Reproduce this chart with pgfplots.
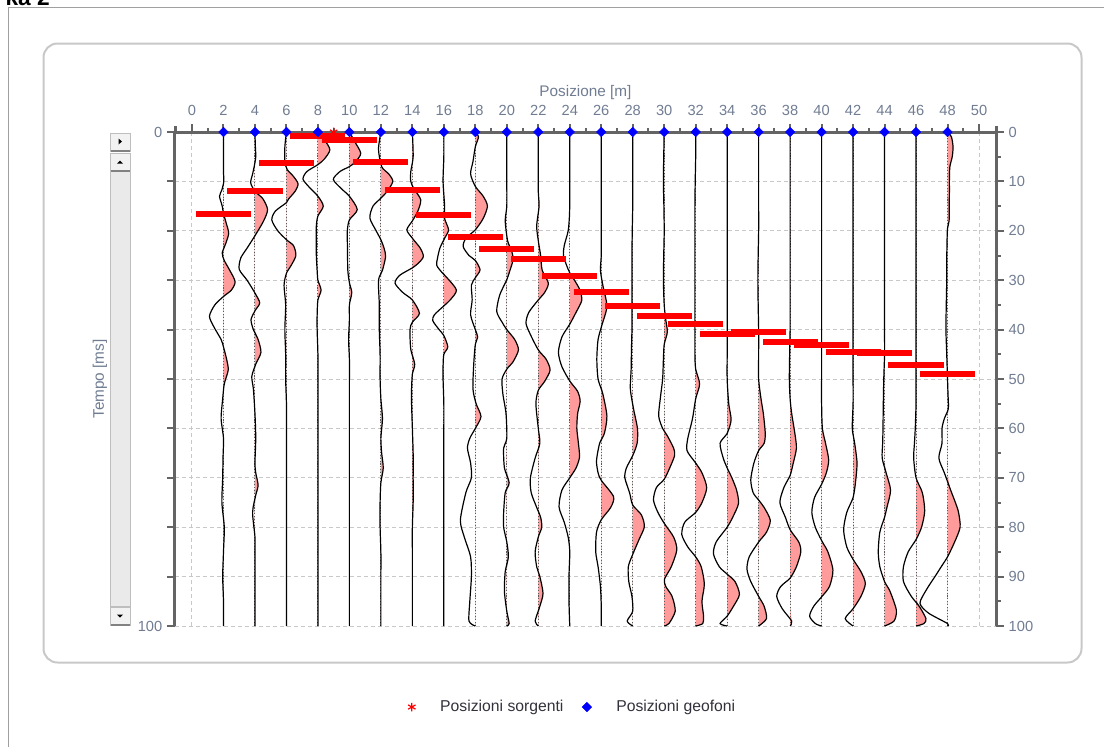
\documentclass[border=0pt]{standalone}
\usepackage{pgfplots}
\pgfplotsset{compat=1.18}
\usepackage{pgfplotstable}
\usepackage{fontspec}
\setmainfont{Liberation Sans}

\definecolor{axisgrey}{RGB}{100,100,100}
\definecolor{gridgrey}{RGB}{200,200,200}
\definecolor{labelcol}{RGB}{112,124,146}
\definecolor{tracefill}{RGB}{255,155,155}
\definecolor{panelgrey}{RGB}{200,200,200}
\definecolor{framegrey}{RGB}{160,160,160}
\definecolor{legtext}{RGB}{50,50,60}
\definecolor{basecol}{RGB}{90,90,90}
\definecolor{btnfill}{RGB}{242,242,242}
\definecolor{trackfill}{RGB}{234,234,234}
\definecolor{btnborder}{RGB}{190,190,190}
\definecolor{btndark}{RGB}{130,130,130}

% traces: t [ms], a = amplitude offset from geophone position [m]
\pgfplotstableread[row sep=\\]{t a\\ 0 0\\ 4 0\\ 8 0\\ 10 0.02\\ 11.7 -0.1\\ 13 -0.25\\ 15 -0.08\\ 16.5 0\\ 18.4 0.17\\ 20.5 0.33\\ 22.5 0.15\\ 24.5 -0.08\\ 26 0.05\\ 28 0.4\\ 30.3 0.74\\ 32 0.5\\ 33.3 0\\ 35 -0.55\\ 37.3 -0.89\\ 39.5 -0.6\\ 42 -0.15\\ 43.5 0\\ 46 0.2\\ 48.2 0.3\\ 51 0.05\\ 54 -0.05\\ 58 -0.15\\ 62 0\\ 66 -0.03\\ 70 -0.05\\ 75 -0.1\\ 80 0.05\\ 85 0\\ 90 -0.05\\ 95 0\\ 100 0\\}\dA
\pgfplotstableread[row sep=\\]{t a\\ 0 0\\ 2.5 0.02\\ 5 0.05\\ 7 -0.05\\ 8.5 -0.15\\ 10.3 -0.27\\ 12 0\\ 13.5 0.5\\ 15.7 0.8\\ 18 0.55\\ 21 0\\ 23.5 -0.5\\ 25.5 -0.9\\ 27.8 -1.0\\ 30 -0.5\\ 32.6 0\\ 34.6 0.3\\ 36.2 0\\ 38 -0.25\\ 40 -0.1\\ 42 0.2\\ 44.6 0.38\\ 47 0.05\\ 49.5 -0.2\\ 52 -0.1\\ 57 0\\ 62 0.05\\ 67 0\\ 69 0.05\\ 71.5 0.2\\ 73.5 0.05\\ 77 -0.15\\ 82 0\\ 86 0\\ 90 0\\ 95 0\\ 100 0\\}\dB
\pgfplotstableread[row sep=\\]{t a\\ 0 0\\ 3 -0.1\\ 6 -0.1\\ 7.6 0.05\\ 9 0.45\\ 10.5 0.74\\ 12 0.55\\ 13.5 0.15\\ 14.3 0\\ 16 -0.7\\ 17.8 -0.93\\ 20 -0.55\\ 21.8 0\\ 23 0.45\\ 25 0.6\\ 27 0.3\\ 28.6 0\\ 31 -0.15\\ 35 -0.05\\ 40 -0.1\\ 45 -0.05\\ 50 -0.05\\ 55 0\\ 60 0\\ 65 0\\ 70 0\\ 75 0\\ 80 0\\ 85 0\\ 90 0\\ 95 0\\ 100 0\\}\dC
\pgfplotstableread[row sep=\\]{t a\\ 0 0\\ 1.5 0.4\\ 3.6 0.76\\ 5.5 0.4\\ 6.6 0\\ 8 -0.7\\ 9.5 -0.95\\ 11 -0.6\\ 13 0\\ 15 0.34\\ 17 0\\ 19 -0.1\\ 22 -0.1\\ 25 -0.1\\ 28 -0.05\\ 30 0\\ 32 0.2\\ 34 0\\ 37 -0.05\\ 40 -0.05\\ 45 0\\ 50 0\\ 55 0\\ 60 0\\ 65 0\\ 70 0\\ 75 0\\ 80 0\\ 85 0\\ 90 0\\ 95 0\\ 100 0\\}\dD
\pgfplotstableread[row sep=\\]{t a\\ 0 0\\ 2 0.35\\ 4.3 0.72\\ 6 0.4\\ 7 0\\ 8 -0.6\\ 9.6 -1.02\\ 11.5 -0.5\\ 13 0\\ 15.7 0.5\\ 17.8 0\\ 20 -0.13\\ 24 -0.12\\ 28 -0.1\\ 30.5 0\\ 32.5 0.15\\ 35 0\\ 38 0\\ 42 -0.05\\ 46 0\\ 50 0\\ 55 0\\ 60 0\\ 65 0\\ 70 0\\ 75 0\\ 80 0\\ 85 0\\ 90 0\\ 95 0\\ 100 0\\}\dE
\pgfplotstableread[row sep=\\]{t a\\ 0 0\\ 3.5 -0.15\\ 7 0.05\\ 8.5 0.5\\ 10 0.76\\ 12 0.4\\ 13.4 0\\ 15 -0.5\\ 17.4 -0.7\\ 20 -0.3\\ 21.8 0\\ 23.5 0.2\\ 25.2 0.3\\ 28 0.1\\ 30 -0.15\\ 35 -0.1\\ 40 -0.1\\ 45 -0.05\\ 50 -0.05\\ 54 0\\ 58 0.1\\ 62 0\\ 65 0.05\\ 68 0.15\\ 71 0\\ 75 -0.05\\ 80 -0.05\\ 85 0\\ 90 0\\ 95 0\\ 100 0\\}\dF
\pgfplotstableread[row sep=\\]{t a\\ 0 0\\ 5 0.05\\ 8 -0.1\\ 10 -0.1\\ 11.5 0.1\\ 13.7 0.53\\ 16 0.35\\ 18 0\\ 19.8 -0.35\\ 21.5 0\\ 23.5 0.5\\ 25.2 0.7\\ 26.5 0.4\\ 27.5 0\\ 29 -0.8\\ 30.6 -1.1\\ 32.5 -0.6\\ 34 0\\ 36.7 0.45\\ 38.5 0\\ 40 -0.15\\ 44 -0.1\\ 47 0.15\\ 49 0\\ 52 -0.05\\ 55 -0.05\\ 60 0\\ 65 0.05\\ 70 0.05\\ 75 0.05\\ 80 0\\ 85 0\\ 90 0\\ 95 0\\ 100 0\\}\dG
\pgfplotstableread[row sep=\\]{t a\\ 0 0\\ 5 0\\ 10 -0.05\\ 15 0.05\\ 17.5 0.05\\ 19.8 0.3\\ 21.5 0.05\\ 23.5 -0.25\\ 25.5 -0.4\\ 27 -0.45\\ 28.5 -0.1\\ 29.5 0.2\\ 32 0.8\\ 34 0.4\\ 35.2 0\\ 37 -0.6\\ 38.2 -0.7\\ 40 -0.3\\ 41.2 0\\ 43.5 0.25\\ 45 0\\ 47.5 -0.05\\ 50 -0.05\\ 55 0\\ 60 0\\ 65 0\\ 70 0\\ 75 0\\ 80 0\\ 85 0\\ 90 0\\ 95 0\\ 100 0\\}\dH
\pgfplotstableread[row sep=\\]{t a\\ 0 0\\ 1 0.2\\ 3 0\\ 6 -0.15\\ 8.5 -0.3\\ 11 0\\ 13 0.5\\ 15 0.77\\ 17.5 0.5\\ 19.8 0\\ 21.5 -0.6\\ 23.2 -0.77\\ 25 -0.4\\ 26 0\\ 27.9 0.3\\ 29.5 0\\ 31 -0.25\\ 34 -0.2\\ 37 -0.3\\ 40 0\\ 41.5 0.15\\ 43 0\\ 47 -0.1\\ 52 -0.15\\ 55 0.05\\ 57.6 0.36\\ 60 0\\ 62 -0.35\\ 64 -0.5\\ 67 -0.3\\ 70 -0.25\\ 73 -0.6\\ 78.6 -0.95\\ 82 -0.7\\ 86 -0.3\\ 90 -0.25\\ 95 -0.35\\ 99 -0.4\\ 100 0\\}\dI
\pgfplotstableread[row sep=\\]{t a\\ 0 0\\ 5 0\\ 10 0\\ 15 0\\ 18 -0.1\\ 22 0.05\\ 24 0.3\\ 25.8 0.4\\ 28 0.2\\ 29.9 0\\ 33 -0.45\\ 36.3 -0.64\\ 38.5 -0.3\\ 40 0\\ 42 0.5\\ 44.1 0.74\\ 46.5 0.4\\ 48 0\\ 50 -0.3\\ 53 -0.25\\ 57 -0.05\\ 62 0\\ 64 -0.2\\ 68 -0.15\\ 71 0.15\\ 73 -0.1\\ 77 -0.2\\ 80 -0.2\\ 83 0\\ 86 0.1\\ 89 -0.1\\ 93 -0.15\\ 97 0\\ 99.5 0.15\\ 100 0\\}\dJ
\pgfplotstableread[row sep=\\]{t a\\ 0 0\\ 4 0\\ 8 0\\ 12 0\\ 15 0.05\\ 19 -0.1\\ 22 0\\ 25 0.15\\ 28 0.25\\ 30.6 0.64\\ 32.5 0.4\\ 34 0\\ 36.5 -0.6\\ 38.7 -0.78\\ 41 -0.5\\ 44.1 0\\ 46 0.5\\ 48.2 0.75\\ 50.5 0.4\\ 52.3 0\\ 55 -0.15\\ 60 0\\ 63 0.1\\ 66 -0.2\\ 70 -0.5\\ 73 -0.45\\ 76 -0.1\\ 78 0.15\\ 80 0.22\\ 82 0\\ 85 -0.2\\ 88 -0.1\\ 90 0.1\\ 93.4 0.3\\ 96 0.1\\ 99 -0.2\\ 100 0\\}\dK
\pgfplotstableread[row sep=\\]{t a\\ 0 0\\ 5 0\\ 10 0\\ 14 0\\ 17 -0.02\\ 20 -0.1\\ 23 -0.35\\ 25 -0.4\\ 27 -0.2\\ 28.5 0\\ 30 0.3\\ 32 0.65\\ 34.1 0.76\\ 36.5 0.4\\ 38.9 0\\ 41.5 -0.5\\ 44.6 -0.72\\ 47.5 -0.5\\ 50.4 0\\ 52.5 0.5\\ 54.5 0.66\\ 57 0.5\\ 60 0.45\\ 63 0.55\\ 65.8 0.62\\ 68 0.4\\ 70 0\\ 72.5 -0.5\\ 75.9 -0.68\\ 79 -0.35\\ 82 -0.1\\ 85 0\\ 90 -0.05\\ 95 -0.05\\ 100 0\\}\dL
\pgfplotstableread[row sep=\\]{t a\\ 0 0\\ 5 0\\ 10 0\\ 15 0\\ 20 0\\ 25 0\\ 28 -0.05\\ 31 0.1\\ 35.3 0.36\\ 39 0.05\\ 42 -0.2\\ 46 -0.28\\ 50 -0.2\\ 53 0.1\\ 57.5 0.36\\ 61 0.2\\ 63 -0.1\\ 66.5 -0.3\\ 69 -0.2\\ 70.5 0\\ 73.8 0.78\\ 76 0.6\\ 78.5 0\\ 81 -0.3\\ 85 -0.35\\ 88 -0.2\\ 92 -0.05\\ 96 0\\ 100 0\\}\dM
\pgfplotstableread[row sep=\\]{t a\\ 0 0\\ 5 0\\ 10 0\\ 15 0\\ 20 -0.03\\ 25 -0.05\\ 30 -0.05\\ 35 -0.05\\ 40 -0.05\\ 44 -0.08\\ 48 -0.1\\ 52 -0.15\\ 56 0.05\\ 60 0.3\\ 63 0.28\\ 65.5 0\\ 68 -0.4\\ 70 -0.5\\ 73 -0.2\\ 75.5 0\\ 77.5 0.55\\ 79.9 0.74\\ 82.5 0.4\\ 85.5 0\\ 88 -0.28\\ 91 -0.25\\ 94 -0.05\\ 97 0\\ 99 -0.35\\ 100 0\\}\dN
\pgfplotstableread[row sep=\\]{t a\\ 0 0\\ 5 -0.03\\ 10 -0.05\\ 15 -0.02\\ 20 0\\ 25 -0.03\\ 30 -0.05\\ 35 0\\ 38 0.1\\ 40.5 0.2\\ 43 0\\ 46 -0.05\\ 50 -0.1\\ 54 -0.25\\ 57.5 -0.35\\ 60 -0.1\\ 61.5 0.2\\ 64 0.6\\ 65.5 0.66\\ 68 0.35\\ 70.3 0\\ 72 -0.5\\ 74.5 -0.68\\ 77 -0.4\\ 79.2 0\\ 82 0.6\\ 84.6 0.8\\ 88 0.45\\ 90.5 0.02\\ 92 0.1\\ 94 0.5\\ 97 0.7\\ 99.5 0.3\\ 100 0\\}\dO
\pgfplotstableread[row sep=\\]{t a\\ 0 0\\ 5 0\\ 10 -0.03\\ 15 -0.05\\ 20 -0.05\\ 25 -0.05\\ 30 -0.05\\ 35 -0.05\\ 40 -0.05\\ 45 -0.05\\ 48 0\\ 51 0.25\\ 54 0\\ 58 -0.2\\ 62 -0.5\\ 64.5 -0.55\\ 67 0\\ 69 0.4\\ 72 0.7\\ 75 0.4\\ 77 0\\ 79 -0.7\\ 81.5 -0.88\\ 84 -0.5\\ 86 0\\ 88 0.35\\ 91.5 0.55\\ 95 0.4\\ 98 0.5\\ 99.5 0.45\\ 100 0\\}\dP
\pgfplotstableread[row sep=\\]{t a\\ 0 0\\ 5 0\\ 10 0\\ 15 0\\ 20 0\\ 25 0\\ 30 0\\ 35 0\\ 40 0\\ 45 0\\ 50 0\\ 55 0.1\\ 58.3 0.25\\ 61 0\\ 63 -0.45\\ 66 -0.25\\ 68 0\\ 70 0.3\\ 72.5 0.6\\ 75.2 0.72\\ 78 0.35\\ 80 0\\ 83 -0.7\\ 85.4 -0.87\\ 88 -0.5\\ 89.5 0\\ 91 0.5\\ 93.6 0.78\\ 96 0.4\\ 98 0\\ 99.5 -0.45\\ 100 0\\}\dQ
\pgfplotstableread[row sep=\\]{t a\\ 0 0\\ 5 0\\ 10 0\\ 15 0\\ 20 0\\ 25 -0.03\\ 30 -0.05\\ 35 -0.03\\ 40 0\\ 45 0\\ 50 0\\ 54 0.15\\ 57 0.3\\ 61 0.42\\ 63 0.35\\ 64.5 0\\ 67 -0.3\\ 70.4 -0.5\\ 73 -0.35\\ 74.5 0\\ 76 0.35\\ 78.6 0.74\\ 81 0.5\\ 83 0\\ 86 -0.6\\ 88.5 -0.74\\ 91 -0.5\\ 94 0\\ 96 0.35\\ 98.5 0.5\\ 100 0\\}\dR
\pgfplotstableread[row sep=\\]{t a\\ 0 0\\ 5 0\\ 10 0\\ 15 0\\ 20 0\\ 25 0\\ 30 0\\ 35 0\\ 40 0\\ 45 -0.03\\ 50 -0.05\\ 54 0\\ 57 0.1\\ 61 0.3\\ 64 0.4\\ 67 0.2\\ 69.5 0\\ 72 -0.4\\ 75 -0.65\\ 78 -0.3\\ 80.5 0\\ 83 0.55\\ 85 0.68\\ 88 0.4\\ 90.3 0\\ 92 -0.6\\ 94 -0.85\\ 96.5 -0.5\\ 99 0.1\\ 100 0\\}\dS
\pgfplotstableread[row sep=\\]{t a\\ 0 0\\ 5 0\\ 10 0\\ 15 0\\ 20 0\\ 25 0\\ 30 0\\ 35 0\\ 40 0\\ 45 0\\ 50 0\\ 55 0\\ 60 0.05\\ 63 0.25\\ 66.4 0.45\\ 69 0.3\\ 71.3 0\\ 74 -0.45\\ 77 -0.62\\ 80 -0.4\\ 82.7 0\\ 85 0.4\\ 88.7 0.72\\ 92 0.5\\ 94.1 0\\ 96 -0.5\\ 98 -0.76\\ 99.5 -0.4\\ 100 0\\}\dT
\pgfplotstableread[row sep=\\]{t a\\ 0 0\\ 5 0\\ 10 0\\ 15 0\\ 20 0\\ 25 0\\ 30 0\\ 35 0\\ 40 0\\ 45 0\\ 50 0\\ 55 0\\ 60 -0.05\\ 63 0.1\\ 67 0.25\\ 71 0.15\\ 74 0\\ 77 -0.4\\ 80.5 -0.6\\ 84 -0.4\\ 86.5 0\\ 89 0.5\\ 91.4 0.78\\ 94 0.5\\ 96.5 0\\ 98.5 -0.5\\ 100 0\\}\dU
\pgfplotstableread[row sep=\\]{t a\\ 0 0\\ 5 0\\ 10 0\\ 15 0\\ 20 0\\ 25 0\\ 30 0\\ 35 0\\ 40 0\\ 45 0\\ 50 -0.05\\ 55 -0.08\\ 60 -0.1\\ 63 -0.12\\ 66 -0.15\\ 69 0.1\\ 72.5 0.38\\ 76 0.15\\ 78 0\\ 81 -0.3\\ 85 -0.4\\ 88 -0.3\\ 91 0\\ 93 0.35\\ 96.8 0.75\\ 99 0.6\\ 100 0\\}\dV
\pgfplotstableread[row sep=\\]{t a\\ 0 0\\ 5 0\\ 10 0\\ 15 0\\ 20 0\\ 25 0\\ 30 0\\ 35 0\\ 40 0\\ 45 0\\ 50 0\\ 55 0\\ 60 -0.05\\ 63 -0.1\\ 66 -0.15\\ 70 0\\ 73 0.4\\ 76.7 0.55\\ 80 0.35\\ 82.5 0\\ 85 -0.5\\ 88 -0.8\\ 91 -0.8\\ 94 -0.3\\ 96 0.2\\ 98.5 0.63\\ 99.5 0.5\\ 100 0\\}\dW
\pgfplotstableread[row sep=\\]{t a\\ 0 0\\ 1 0.25\\ 3 0.35\\ 5 0.3\\ 7 0.15\\ 9.5 0.12\\ 12 0.12\\ 15 0.11\\ 18 0.1\\ 19.5 0\\ 22 -0.03\\ 26 -0.05\\ 30 -0.05\\ 35 -0.08\\ 40 -0.1\\ 45 -0.05\\ 50 0\\ 53 0.03\\ 56 0.05\\ 58 -0.2\\ 60 -0.35\\ 63 -0.35\\ 66 -0.55\\ 69 -0.2\\ 72.5 0.2\\ 75 0.5\\ 77 0.7\\ 80 0.8\\ 83 0.45\\ 86 0\\ 88 -0.4\\ 90 -0.8\\ 92.7 -1.35\\ 95.4 -1.75\\ 97.4 -1.2\\ 99.5 0\\ 100 0\\}\dX

% first-break picks (geophone position, time)
\pgfplotstableread[row sep=\\]{g t\\ 2 16.6\\ 4 12.0\\ 6 6.2\\ 8 0.9\\ 10 1.6\\ 12 6.1\\ 14 11.7\\ 16 16.8\\ 18 21.2\\ 20 23.7\\ 22 25.8\\ 24 29.2\\ 26 32.4\\ 28 35.2\\ 30 37.3\\ 32 38.9\\ 34 40.8\\ 36 40.4\\ 38 42.6\\ 40 43.1\\ 42 44.6\\ 44 44.8\\ 46 47.2\\ 48 48.9\\}\dPicks

% one seismic trace: positive lobes filled, dotted zero line, black wiggle
\newcommand{\trace}[2]{%
  \addplot[fill=tracefill, draw=none, smooth, tension=0.45, forget plot]
    table[x expr={#1+max(\thisrow{a},0)}, y=t] {#2};
  \draw[basecol, line width=0.75pt, dash pattern=on 0.8pt off 1.4pt]
    (axis cs:#1,0) -- (axis cs:#1,100);
  \addplot[black, line width=0.9pt, smooth, tension=0.45, forget plot]
    table[x expr=\thisrow{a}+#1, y=t] {#2};
}

\begin{document}
\begin{tikzpicture}
\begin{scope}[x=0.75pt,y=-0.75pt]
  \useasboundingbox (0,0) rectangle (1104,747);
  \node[anchor=base east, inner sep=0pt, font=\fontsize{17}{19}\selectfont\bfseries] at (50,5.5) {ka 2};
  \draw[framegrey, line width=0.75pt] (8,747) -- (8,7.5) -- (1104,7.5);
  \draw[panelgrey, line width=1.5pt, rounded corners=10.5pt] (43.5,43.5) rectangle (1081.5,662.5);
  % scrollbar
  \filldraw[fill=trackfill, draw=btnborder, line width=0.75pt] (110.5,171) rectangle (130,606);
  \filldraw[fill=btnfill, draw=btnborder, line width=0.75pt] (110.5,133) rectangle (130,151);
  \filldraw[fill=btnfill, draw=btnborder, line width=0.75pt] (110.5,153) rectangle (130,171);
  \filldraw[fill=btnfill, draw=btnborder, line width=0.75pt] (110.5,607) rectangle (130,625);
  \draw[btndark, line width=1.5pt] (110.5,151) -- (130,151);
  \draw[btndark, line width=1.5pt] (110.5,171) -- (130,171);
  \draw[btndark, line width=1.5pt] (110.5,625) -- (130,625);
  \fill[black] (118.5,138.5) -- (122,141.5) -- (118.5,144.5) -- cycle;
  \fill[black] (117,163.5) -- (123,163.5) -- (120,160.5) -- cycle;
  \fill[black] (117,614.5) -- (123,614.5) -- (120,617.5) -- cycle;
\end{scope}

\begin{axis}[
  at={(131.25pt,-469.5pt)}, anchor=south west,
  scale only axis, width=615.75pt, height=370.5pt,
  xmin=-1.08, xmax=51.08, ymin=0, ymax=100, y dir=reverse,
  axis x line*=top, axis y line*=left,
  xtick={0,2,...,50}, minor x tick num=1,
  ytick={0,10,...,100}, yticklabels={0,,,,,,,,,,100},
  tick align=outside,
  major tick length=6pt, minor tick length=3pt,
  tick style={axisgrey, line width=1.5pt},
  axis line style={axisgrey, line width=2.25pt},
  grid=major,
  major grid style={gridgrey, line width=0.75pt, dash pattern=on 3pt off 2.25pt},
  tick label style={font=\fontsize{11}{13}\selectfont, text=labelcol},
  xticklabel style={yshift=3pt},
  label style={font=\fontsize{11.5}{13}\selectfont, text=labelcol},
  /pgf/number format/assume math mode=true,
  xlabel={Posizione [m]}, ylabel={Tempo [ms]},
  xlabel style={at={(axis description cs:0.5,1.079)}, anchor=center},
  ylabel style={at={(axis description cs:-0.0914,0.5)}, anchor=center},
  clip=false,
  legend columns=2,
  legend style={at={(0.4848,-0.164)}, anchor=center, draw=none, fill=none,
    font=\fontsize{11.8}{14}\selectfont, text=legtext,
    /tikz/every odd column/.append style={column sep=16.5pt},
    /tikz/every even column/.append style={column sep=12pt}},
]
\trace{2}{\dA}
\trace{4}{\dB}
\trace{6}{\dC}
\trace{8}{\dD}
\trace{10}{\dE}
\trace{12}{\dF}
\trace{14}{\dG}
\trace{16}{\dH}
\trace{18}{\dI}
\trace{20}{\dJ}
\trace{22}{\dK}
\trace{24}{\dL}
\trace{26}{\dM}
\trace{28}{\dN}
\trace{30}{\dO}
\trace{32}{\dP}
\trace{34}{\dQ}
\trace{36}{\dR}
\trace{38}{\dS}
\trace{40}{\dT}
\trace{42}{\dU}
\trace{44}{\dV}
\trace{46}{\dW}
\trace{48}{\dX}

\addplot[forget plot, draw=none, mark=none,
  error bars/.cd, x dir=both, x fixed=1.75, error mark=none,
  error bar style={draw=red, line width=4.5pt, line cap=butt}]
  table[x=g, y=t] {\dPicks};

\addplot[only marks, mark=asterisk, mark size=3.2pt, red, mark options={line width=0.9pt}]
  coordinates {(9,0)};
\addlegendentry{Posizioni sorgenti}
\addplot[only marks, mark=square*, mark size=2.5pt, blue, mark options={rotate=45}]
  coordinates {(2,0) (4,0) (6,0) (8,0) (10,0) (12,0) (14,0) (16,0) (18,0) (20,0) (22,0) (24,0)
               (26,0) (28,0) (30,0) (32,0) (34,0) (36,0) (38,0) (40,0) (42,0) (44,0) (46,0) (48,0)};
\addlegendentry{Posizioni geofoni}
\end{axis}

\begin{axis}[
  at={(131.25pt,-469.5pt)}, anchor=south west,
  scale only axis, width=615.75pt, height=370.5pt,
  xmin=-1.08, xmax=51.08, ymin=0, ymax=100, y dir=reverse,
  axis x line=none, axis y line*=right,
  ytick={0,10,...,100}, minor y tick num=1,
  tick align=outside, major tick length=6pt, minor tick length=3.5pt,
  tick style={axisgrey, line width=1.5pt},
  axis line style={axisgrey, line width=2.25pt},
  tick label style={font=\fontsize{11}{13}\selectfont, text=labelcol},
  /pgf/number format/assume math mode=true,
]
\addplot[draw=none, forget plot] coordinates {(0,0)};
\end{axis}

\begin{scope}[x=0.75pt,y=-0.75pt]
  \draw[axisgrey, line width=2.25pt] (175,126) -- (175,132);
  \draw[axisgrey, line width=2.25pt] (996,126) -- (996,132);
\end{scope}
\end{tikzpicture}
\end{document}
